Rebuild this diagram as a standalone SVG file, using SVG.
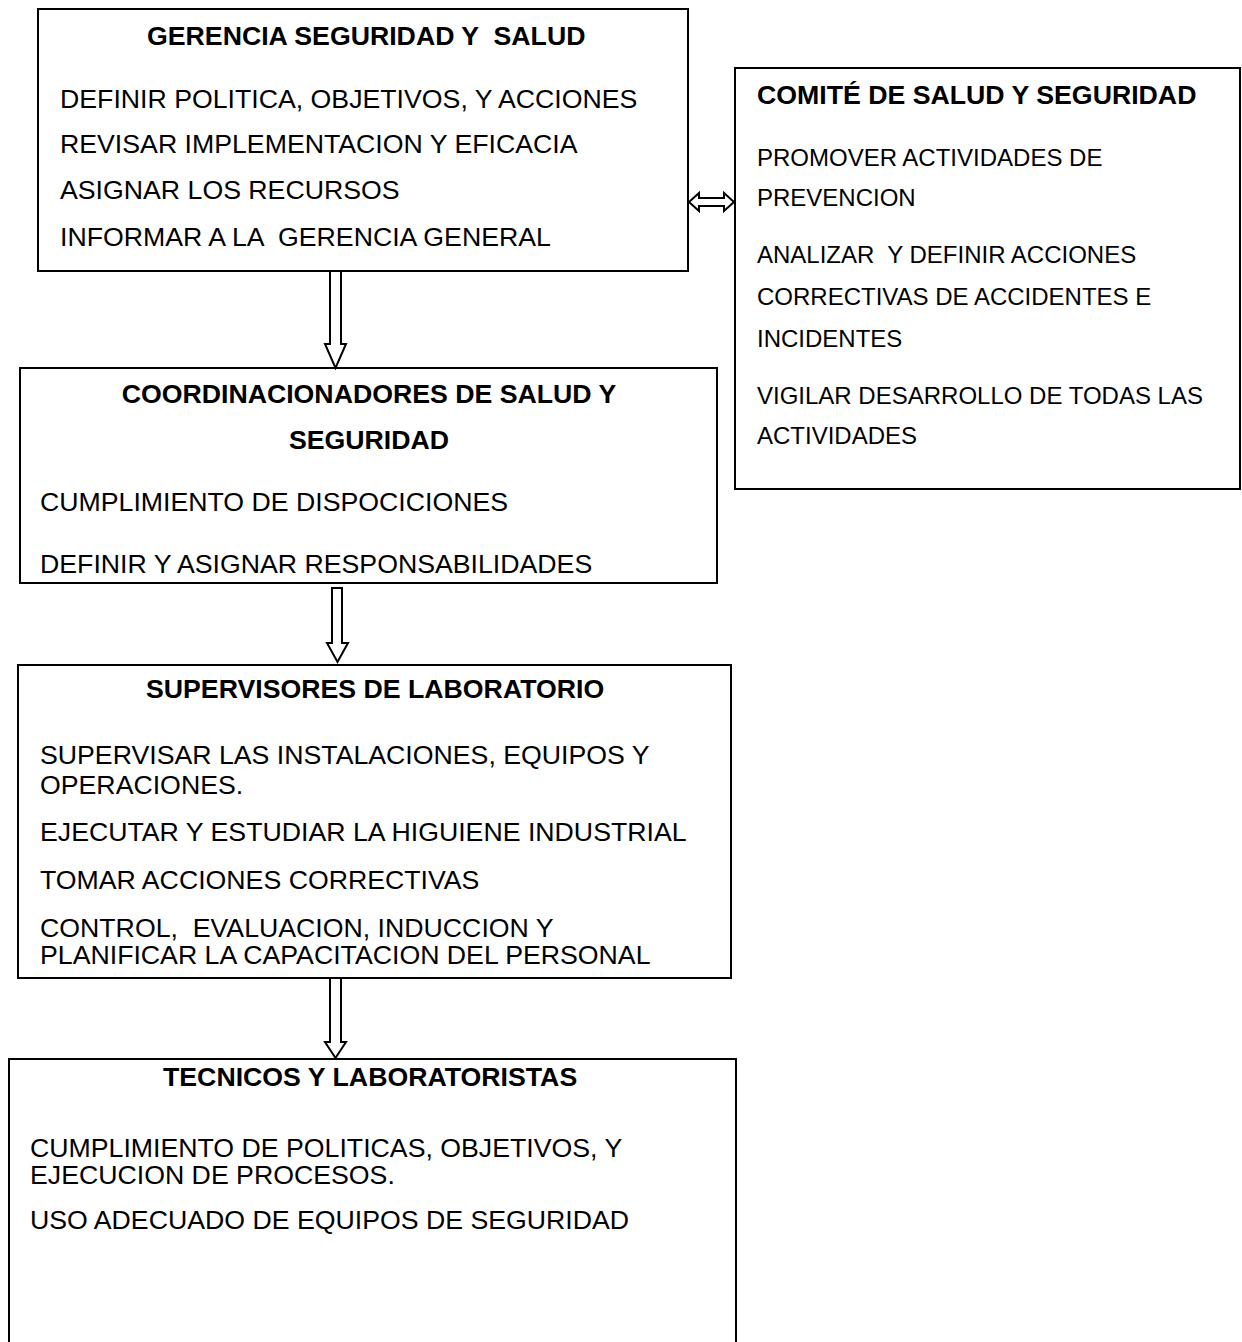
<svg xmlns="http://www.w3.org/2000/svg" width="1242" height="1342" viewBox="0 0 1242 1342">
  <style>
    .box { fill: #ffffff; stroke: #000000; stroke-width: 2; }
    .arrow { fill: #ffffff; stroke: #000000; stroke-width: 2; stroke-linejoin: miter; }
    text { font-family: "Liberation Sans", Arial, sans-serif; fill: #000000; white-space: pre; }
    .title { font-size: 26.7px; font-weight: bold; }
    .mid { text-anchor: middle; }
    .body { font-size: 26.7px; }
    .small { font-size: 24px; }
  </style>
  <rect width="1242" height="1342" fill="#ffffff"/>

  <!-- Management -->
  <g id="gerencia">
    <rect class="box" x="38" y="9" width="650" height="262"/>
    <text class="title" x="147" y="45" xml:space="preserve">GERENCIA SEGURIDAD Y  SALUD</text>
    <text class="body" x="60" y="108">DEFINIR POLITICA, OBJETIVOS, Y ACCIONES</text>
    <text class="body" x="60" y="153">REVISAR IMPLEMENTACION Y EFICACIA</text>
    <text class="body" x="60" y="199">ASIGNAR LOS RECURSOS</text>
    <text class="body" x="60" y="246" xml:space="preserve">INFORMAR A LA  GERENCIA GENERAL</text>
  </g>

  <!-- Committee -->
  <g id="comite">
    <rect class="box" x="735" y="68" width="505" height="421"/>
    <text class="title" x="757" y="104">COMITÉ DE SALUD Y SEGURIDAD</text>
    <text class="small" x="757" y="166">PROMOVER ACTIVIDADES DE</text>
    <text class="small" x="757" y="206">PREVENCION</text>
    <text class="small" x="757" y="263" xml:space="preserve">ANALIZAR  Y DEFINIR ACCIONES</text>
    <text class="small" x="757" y="305">CORRECTIVAS DE ACCIDENTES E</text>
    <text class="small" x="757" y="347">INCIDENTES</text>
    <text class="small" x="757" y="404">VIGILAR DESARROLLO DE TODAS LAS</text>
    <text class="small" x="757" y="444">ACTIVIDADES</text>
  </g>

  <!-- Coordinators -->
  <g id="coordinadores">
    <rect class="box" x="20" y="368" width="697" height="215"/>
    <text class="title mid" x="369" y="403">COORDINACIONADORES DE SALUD Y</text>
    <text class="title mid" x="369" y="449">SEGURIDAD</text>
    <text class="body" x="40" y="511">CUMPLIMIENTO DE DISPOCICIONES</text>
    <text class="body" x="40" y="573">DEFINIR Y ASIGNAR RESPONSABILIDADES</text>
  </g>

  <!-- Laboratory supervisors -->
  <g id="supervisores">
    <rect class="box" x="18" y="665" width="713" height="313"/>
    <text class="title" x="146" y="698">SUPERVISORES DE LABORATORIO</text>
    <text class="body" x="40" y="764">SUPERVISAR LAS INSTALACIONES, EQUIPOS Y</text>
    <text class="body" x="40" y="794">OPERACIONES.</text>
    <text class="body" x="40" y="841">EJECUTAR Y ESTUDIAR LA HIGUIENE INDUSTRIAL</text>
    <text class="body" x="40" y="889">TOMAR ACCIONES CORRECTIVAS</text>
    <text class="body" x="40" y="937" xml:space="preserve">CONTROL,  EVALUACION, INDUCCION Y</text>
    <text class="body" x="40" y="964">PLANIFICAR LA CAPACITACION DEL PERSONAL</text>
  </g>

  <!-- Technicians -->
  <g id="tecnicos">
    <rect class="box" x="9" y="1059" width="727" height="300"/>
    <text class="title" x="163" y="1086">TECNICOS Y LABORATORISTAS</text>
    <text class="body" x="30" y="1157">CUMPLIMIENTO DE POLITICAS, OBJETIVOS, Y</text>
    <text class="body" x="30" y="1184">EJECUCION DE PROCESOS.</text>
    <text class="body" x="30" y="1229">USO ADECUADO DE EQUIPOS DE SEGURIDAD</text>
  </g>

  <!-- Block arrows between levels -->
  <g id="connectors">
    <polygon class="arrow" points="330,271 341,271 341,344 346,344 335.5,368 325,344 330,344"/>
    <polygon class="arrow" points="332,588 342,588 342,643 348,643 337.5,662 327,643 332,643"/>
    <polygon class="arrow" points="330,978 341,978 341,1042 346,1042 335.5,1058 325,1042 330,1042"/>
    <polygon class="arrow" points="689,202 699,193 699,198 724,198 724,193 734,202 724,211 724,206 699,206 699,211"/>
  </g>
</svg>
